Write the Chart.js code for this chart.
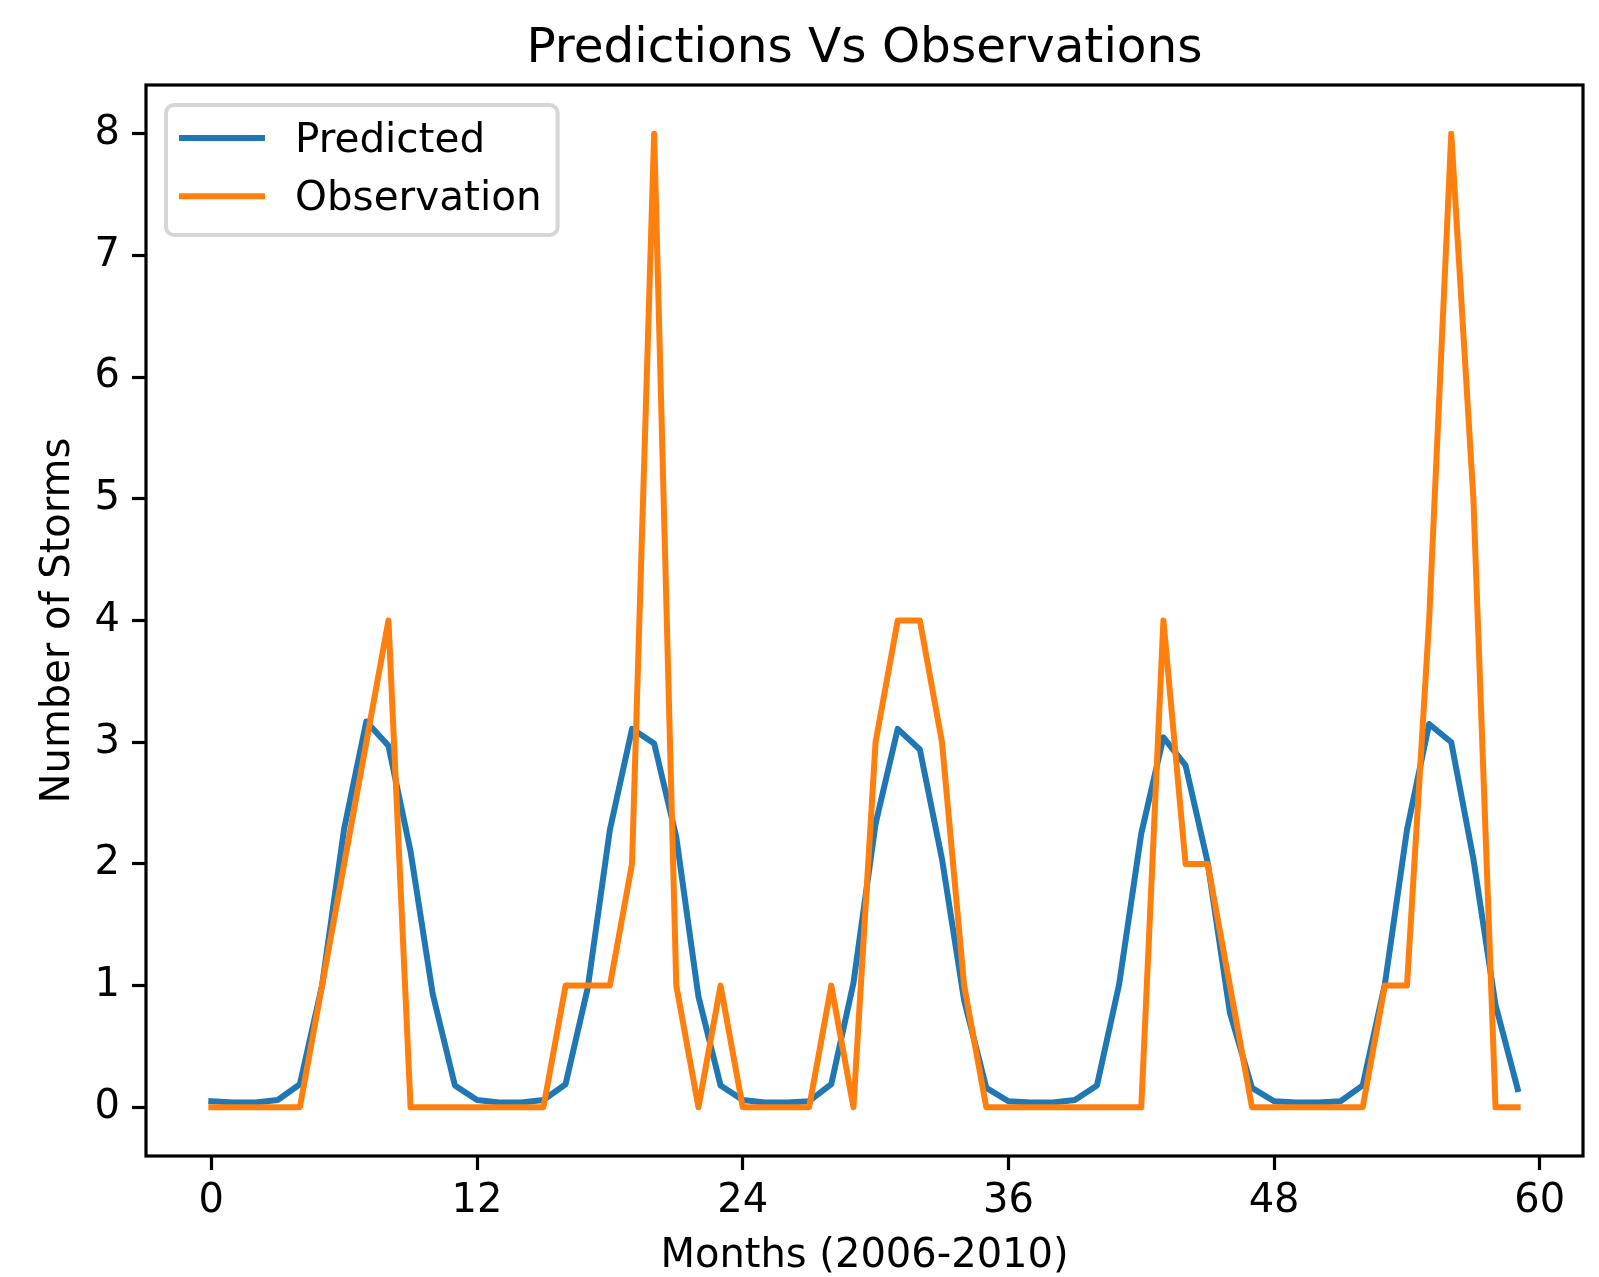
<!DOCTYPE html>
<html>
<head>
<meta charset="utf-8">
<script src="https://cdn.jsdelivr.net/npm/chart.js@4.4.1/dist/chart.umd.min.js"></script>
<style>
  html, body { margin: 0; padding: 0; background: #fff; }
  canvas { display: block; }
</style>
</head>
<body>
<canvas id="chart" width="1599" height="1277" style="width:1599px;height:1277px"></canvas>
<script>
// months since Jan 2006
const months = [
   0,  1,  2,  3,  4,  5,  6,  7,  8,  9, 10, 11,
  12, 13, 14, 15, 16, 17, 18, 19, 20, 21, 22, 23,
  24, 25, 26, 27, 28, 29, 30, 31, 32, 33, 34, 35,
  36, 37, 38, 39, 40, 41, 42, 43, 44, 45, 46, 47,
  48, 49, 50, 51, 52, 53, 54, 55, 56, 57, 58, 59
];
const predicted = [
  0.05, 0.04, 0.04, 0.06, 0.19, 1.00, 2.29, 3.17, 2.97, 2.10, 0.93, 0.18,
  0.06, 0.04, 0.04, 0.06, 0.19, 0.98, 2.28, 3.11, 2.99, 2.22, 0.91, 0.18,
  0.06, 0.04, 0.04, 0.05, 0.19, 1.02, 2.33, 3.11, 2.94, 2.04, 0.88, 0.16,
  0.05, 0.04, 0.04, 0.06, 0.18, 1.01, 2.25, 3.04, 2.81, 2.01, 0.78, 0.16,
  0.05, 0.04, 0.04, 0.05, 0.18, 1.01, 2.28, 3.15, 3.00, 2.04, 0.84, 0.15
];
const observed = [
  0, 0, 0, 0, 0, 1, 2, 3, 4, 0, 0, 0,
  0, 0, 0, 0, 1, 1, 1, 2, 8, 1, 0, 1,
  0, 0, 0, 0, 1, 0, 3, 4, 4, 3, 1, 0,
  0, 0, 0, 0, 0, 0, 0, 4, 2, 2, 1, 0,
  0, 0, 0, 0, 0, 1, 1, 4, 8, 5, 0, 0
];
const xTicks = [0, 12, 24, 36, 48, 60];
const yTicks = [0, 1, 2, 3, 4, 5, 6, 7, 8];

const FONT = '"DejaVu Sans", sans-serif';
const BLUE = '#1f77b4';
const ORANGE = '#ff7f0e';

const toPoints = vals => vals.map((v, i) => ({ x: months[i], y: v }));

// title centred over the axes, like matplotlib does
const titlePlugin = {
  id: 'axTitle',
  afterDraw(chart) {
    const { ctx, chartArea } = chart;
    ctx.save();
    ctx.font = `48.5px ${FONT}`;
    ctx.fillStyle = '#000';
    ctx.textAlign = 'center';
    ctx.textBaseline = 'alphabetic';
    ctx.fillText('Predictions Vs Observations', (chartArea.left + chartArea.right) / 2, 62);
    ctx.restore();
  }
};

// the four spines
const framePlugin = {
  id: 'frame',
  afterDatasetsDraw(chart) {
    const { ctx, chartArea: a } = chart;
    ctx.save();
    ctx.strokeStyle = '#000';
    ctx.lineWidth = 3.2;
    ctx.strokeRect(a.left, a.top, a.right - a.left, a.bottom - a.top);
    ctx.restore();
  }
};

// legend box in the upper left corner of the axes
const legendPlugin = {
  id: 'boxLegend',
  afterDraw(chart) {
    const { ctx, chartArea: a } = chart;
    const items = [
      { label: 'Predicted', color: BLUE },
      { label: 'Observation', color: ORANGE }
    ];
    ctx.save();
    ctx.font = `40.5px ${FONT}`;
    const textW = Math.max(...items.map(it => ctx.measureText(it.label).width));
    const x0 = a.left + 20, y0 = a.top + 20;
    const lineX0 = x0 + 16, lineX1 = lineX0 + 80, textX = lineX1 + 33;
    const w = textX + textW + 16 - x0, h = 130;
    ctx.beginPath();
    ctx.roundRect(x0, y0, w, h, 8);
    ctx.fillStyle = 'rgba(255,255,255,0.8)';
    ctx.fill();
    ctx.lineWidth = 4;
    ctx.strokeStyle = '#d6d6d6';
    ctx.stroke();
    items.forEach((it, i) => {
      const y = y0 + 33 + i * 58.3;
      ctx.beginPath();
      ctx.moveTo(lineX0, y);
      ctx.lineTo(lineX1, y);
      ctx.lineWidth = 6;
      ctx.lineCap = 'square';
      ctx.strokeStyle = it.color;
      ctx.stroke();
      ctx.fillStyle = '#000';
      ctx.textAlign = 'left';
      ctx.textBaseline = 'middle';
      ctx.fillText(it.label, textX, y + 3);
    });
    ctx.restore();
  }
};

const tickGrid = { drawOnChartArea: false, drawTicks: true, tickLength: 14, tickWidth: 3.2, tickColor: '#000' };

new Chart(document.getElementById('chart'), {
  type: 'line',
  data: {
    datasets: [
      { label: 'Predicted', data: toPoints(predicted), borderColor: BLUE, order: 1 },
      { label: 'Observation', data: toPoints(observed), borderColor: ORANGE, order: 0 }
    ]
  },
  options: {
    responsive: false,
    devicePixelRatio: 1,
    animation: false,
    layout: { padding: { top: 85, right: 16, left: 0, bottom: 0 } },
    elements: {
      line: { borderWidth: 6, tension: 0, borderCapStyle: 'square', borderJoinStyle: 'round', fill: false },
      point: { radius: 0, hoverRadius: 0 }
    },
    plugins: { legend: { display: false }, title: { display: false }, tooltip: { enabled: false } },
    scales: {
      x: {
        type: 'linear',
        min: -2.95,
        max: 61.95,
        afterBuildTicks: s => { s.ticks = xTicks.map(v => ({ value: v })); },
        afterFit: s => { s.height = 121; },
        grid: tickGrid,
        border: { display: false },
        ticks: { color: '#000', padding: 8, autoSkip: false, maxRotation: 0, font: { family: FONT, size: 40, lineHeight: 1.2 } },
        title: { display: true, text: 'Months (2006-2010)', color: '#000', padding: 0, font: { family: FONT, size: 40, lineHeight: 1 } }
      },
      y: {
        type: 'linear',
        min: -0.4,
        max: 8.4,
        afterBuildTicks: s => { s.ticks = yTicks.map(v => ({ value: v })); },
        afterFit: s => { s.width = 146; },
        grid: tickGrid,
        border: { display: false },
        ticks: { color: '#000', padding: 12, font: { family: FONT, size: 40, lineHeight: 1.2 } },
        title: { display: true, text: 'Number of Storms', color: '#000', padding: { top: 35, bottom: 0 }, font: { family: FONT, size: 40, lineHeight: 1.2 } }
      }
    }
  },
  plugins: [framePlugin, legendPlugin, titlePlugin]
});
</script>
</body>
</html>
